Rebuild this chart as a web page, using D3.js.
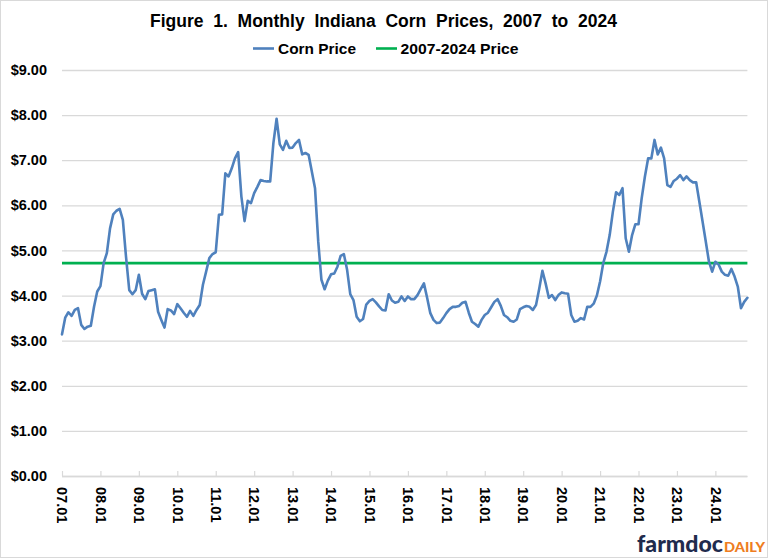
<!DOCTYPE html>
<html>
<head>
<meta charset="utf-8">
<script src="https://cdn.jsdelivr.net/npm/d3@7"></script>
<style>
  html, body { margin: 0; padding: 0; background: #fff; }
  svg { display: block; }
</style>
</head>
<body>
<svg id="chart" width="768" height="558"></svg>
<script>
// ---------------- DATA ----------------
const startYear = 2007;
const price2007 = [3.14, 3.51, 3.63, 3.55, 3.68, 3.72, 3.35, 3.26, 3.31, 3.33, 3.75, 4.09];
const price2008 = [4.21, 4.72, 4.94, 5.49, 5.80, 5.88, 5.92, 5.68, 4.85, 4.12, 4.03, 4.12];
const price2009 = [4.46, 4.04, 3.92, 4.10, 4.12, 4.14, 3.64, 3.46, 3.29, 3.70, 3.67, 3.59];
const price2010 = [3.81, 3.72, 3.62, 3.53, 3.66, 3.55, 3.68, 3.79, 4.24, 4.53, 4.83, 4.92];
const price2011 = [4.96, 5.79, 5.80, 6.71, 6.64, 6.82, 7.04, 7.18, 6.20, 5.65, 6.10, 6.05];
const price2012 = [6.27, 6.41, 6.56, 6.54, 6.53, 6.53, 7.38, 7.92, 7.35, 7.23, 7.43, 7.27];
const price2013 = [7.28, 7.38, 7.45, 7.13, 7.16, 7.12, 6.75, 6.38, 5.20, 4.35, 4.14, 4.33];
const price2014 = [4.47, 4.49, 4.64, 4.88, 4.92, 4.58, 4.03, 3.90, 3.53, 3.43, 3.48, 3.80];
const price2015 = [3.88, 3.92, 3.85, 3.76, 3.68, 3.67, 4.03, 3.89, 3.84, 3.86, 3.98, 3.88];
const price2016 = [3.98, 3.92, 3.92, 4.01, 4.14, 4.27, 3.95, 3.61, 3.46, 3.39, 3.40, 3.50];
const price2017 = [3.61, 3.70, 3.75, 3.75, 3.77, 3.84, 3.86, 3.62, 3.42, 3.37, 3.31, 3.46];
const price2018 = [3.57, 3.62, 3.74, 3.86, 3.92, 3.77, 3.57, 3.52, 3.44, 3.42, 3.47, 3.70];
const price2019 = [3.74, 3.77, 3.75, 3.68, 3.79, 4.15, 4.55, 4.27, 3.95, 4.01, 3.90, 4.01];
const price2020 = [4.07, 4.05, 4.04, 3.57, 3.42, 3.44, 3.50, 3.47, 3.75, 3.75, 3.82, 4.00];
const price2021 = [4.31, 4.72, 4.97, 5.34, 5.86, 6.29, 6.23, 6.38, 5.27, 4.97, 5.34, 5.58];
const price2022 = [5.58, 6.16, 6.64, 7.04, 7.04, 7.45, 7.13, 7.28, 7.04, 6.45, 6.41, 6.54];
const price2023 = [6.59, 6.67, 6.56, 6.64, 6.56, 6.51, 6.51, 6.08, 5.64, 5.20, 4.75, 4.53];
const price2024 = [4.75, 4.69, 4.53, 4.46, 4.44, 4.59, 4.42, 4.20, 3.72, 3.86, 3.95];
const avgPrice = 4.72;   // 2007-2024 average price

const yTicks = [0, 1, 2, 3, 4, 5, 6, 7, 8, 9];
const xTickLabels = ["07.01","08.01","09.01","10.01","11.01","12.01","13.01","14.01","15.01",
                     "16.01","17.01","18.01","19.01","20.01","21.01","22.01","23.01","24.01"];
const seriesNames = ["Corn Price", "2007-2024 Price"];
const seriesColors = ["#4f81bd", "#00b050"];
const titleText = "Figure  1.  Monthly  Indiana  Corn  Prices,  2007  to  2024";

// ---------------- BUILD ----------------
const yearly = [price2007, price2008, price2009, price2010, price2011, price2012, price2013, price2014,
  price2015, price2016, price2017, price2018, price2019, price2020, price2021, price2022, price2023, price2024];
const data = [];
yearly.forEach((arr, yi) => arr.forEach((v, mi) => {
  const yy = String((startYear + yi) % 100).padStart(2, "0");
  const mm = String(mi + 1).padStart(2, "0");
  data.push({ label: yy + "." + mm, value: v });
}));
const catLabels = data.map(d => d.label);

const svg = d3.select("#chart");
const W = 768, H = 558;
const x0 = 62, x1 = 747.4, yTop = 70, yBot = 476;

const x = d3.scalePoint().domain(catLabels).range([x0, x1]);
const y = d3.scaleLinear().domain([0, 9]).range([yBot, yTop]);

// outer border
svg.append("rect").attr("x", 0.5).attr("y", 0.5).attr("width", W - 1).attr("height", H - 1)
  .attr("fill", "#fff").attr("stroke", "#d9d9d9").attr("stroke-width", 1);

// title
svg.append("text").attr("x", 383.5).attr("y", 26.5).attr("text-anchor", "middle")
  .attr("font-family", "'Liberation Sans Narrow','Arial Narrow','Liberation Sans',Arial,sans-serif")
  .attr("font-weight", "bold").attr("font-size", 17.5).attr("fill", "#000")
  .attr("textLength", 467).attr("lengthAdjust", "spacingAndGlyphs")
  .style("white-space", "pre")
  .text(titleText);

// legend
const legend = [
  { name: seriesNames[0], color: seriesColors[0], lx: 253, tx: 278, tw: 78 },
  { name: seriesNames[1], color: seriesColors[1], lx: 376, tx: 400.5, tw: 118 }
];
legend.forEach(l => {
  svg.append("line").attr("x1", l.lx).attr("x2", l.lx + 21).attr("y1", 48.5).attr("y2", 48.5)
    .attr("stroke", l.color).attr("stroke-width", 2.6);
  svg.append("text").attr("x", l.tx).attr("y", 53.5)
    .attr("font-family", "'Liberation Sans Narrow','Arial Narrow','Liberation Sans',Arial,sans-serif")
    .attr("font-weight", "bold").attr("font-size", 14.5).attr("fill", "#000")
    .attr("textLength", l.tw).attr("lengthAdjust", "spacingAndGlyphs")
    .text(l.name);
});

// y gridlines + labels
const yAxis = d3.axisLeft(y).tickValues(yTicks).tickSize(-(x1 - x0)).tickPadding(0)
  .tickFormat(d => "$" + d3.format(".2f")(d));
const gy = svg.append("g").attr("transform", `translate(${x0},0)`).call(yAxis);
gy.select(".domain").remove();
gy.selectAll(".tick line").attr("stroke", "#d9d9d9").attr("stroke-width", 1.3);
gy.selectAll(".tick text").attr("x", 47 - x0).attr("text-anchor", "end")
  .attr("font-family", "'Liberation Sans',Arial,sans-serif").attr("font-weight", "bold")
  .attr("font-size", 14.5).attr("fill", "#000");

// x axis
const xAxis = d3.axisBottom(x).tickValues(xTickLabels).tickSize(-5).tickPadding(0);
const gx = svg.append("g").attr("transform", `translate(0,${yBot})`).call(xAxis);
gx.select(".domain").attr("stroke", "#d9d9d9").attr("stroke-width", 1.3)
  .attr("d", `M${x0},0.5H${x1}`);
gx.selectAll(".tick line").attr("stroke", "#d9d9d9").attr("stroke-width", 1.2);
gx.selectAll(".tick text")
  .text(d => d)
  .attr("transform", "rotate(90)")
  .attr("x", 11).attr("y", 0).attr("dy", "0.36em")
  .attr("text-anchor", "start")
  .attr("font-family", "'Liberation Sans',Arial,sans-serif").attr("font-weight", "bold")
  .attr("font-size", 14.5).attr("fill", "#000");

// average line
svg.append("line").attr("x1", x0).attr("x2", x1).attr("y1", y(avgPrice)).attr("y2", y(avgPrice))
  .attr("stroke", seriesColors[1]).attr("stroke-width", 2.6);

// corn price line
const line = d3.line().x(d => x(d.label)).y(d => y(d.value)).curve(d3.curveLinear);
svg.append("path").datum(data).attr("d", line).attr("fill", "none")
  .attr("stroke", seriesColors[0]).attr("stroke-width", 2.6).attr("stroke-linejoin", "round")
  .attr("stroke-linecap", "round");

// farmdoc DAILY logo
svg.append("text").attr("x", 637).attr("y", 551.5)
  .attr("font-family", "Lato,'Open Sans',sans-serif").attr("font-weight", 900)
  .attr("font-size", 22).attr("fill", "#1f2b4d")
  .attr("textLength", 86).attr("lengthAdjust", "spacingAndGlyphs").text("farmdoc");
svg.append("text").attr("x", 724).attr("y", 551.5)
  .attr("font-family", "Lato,'Open Sans',sans-serif").attr("font-weight", 900)
  .attr("font-size", 14).attr("fill", "#ee7d22")
  .attr("textLength", 41).attr("lengthAdjust", "spacingAndGlyphs").text("DAILY");
</script>
</body>
</html>
